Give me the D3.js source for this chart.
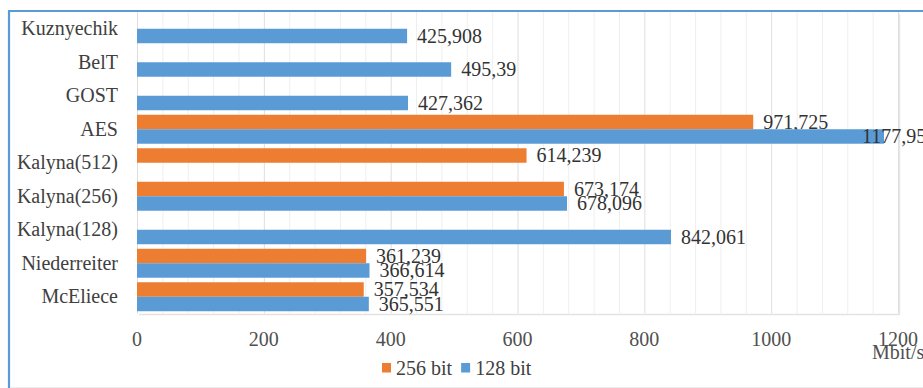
<!DOCTYPE html>
<html>
<head>
<meta charset="utf-8">
<script src="https://cdn.jsdelivr.net/npm/d3@7"></script>
<style>
  html, body { margin: 0; padding: 0; background: #fff; }
  svg { display: block; }
</style>
</head>
<body>
<svg id="chart" width="923" height="388"></svg>
<script>
// ---- data ----
const categories = ["Kuznyechik", "BelT", "GOST", "AES", "Kalyna(512)", "Kalyna(256)", "Kalyna(128)", "Niederreiter", "McEliece"];
const seriesNames = ["256 bit", "128 bit"];
const values256 = [null, null, null, 971.725, 614.239, 673.174, null, 361.239, 357.534];
const values128 = [425.908, 495.39, 427.362, 1177.95, null, 678.096, 842.061, 366.614, 365.551];
const labels256 = [null, null, null, "971,725", "614,239", "673,174", null, "361,239", "357,534"];
const labels128 = ["425,908", "495,39", "427,362", "1177,95", null, "678,096", "842,061", "366,614", "365,551"];
const xTicks = [0, 200, 400, 600, 800, 1000, 1200];
const xMinorStep = 40;
const axisUnit = "Mbit/s";
const colors = ["#ED7D31", "#5B9BD5"];

// ---- layout ----
const W = 923, H = 388;
const FONT = "'Liberation Serif', 'Times New Roman', serif";
const svg = d3.select("#chart");
const plot = { left: 137, right: 898, top: 12, bottom: 313.5 };

// chart frame
svg.append("line").attr("x1", 9).attr("x2", 9).attr("y1", 10).attr("y2", 388)
  .attr("stroke", "#5B9BD5").attr("stroke-width", 2.2);
svg.append("line").attr("x1", 8).attr("x2", W).attr("y1", 11).attr("y2", 11)
  .attr("stroke", "#5B9BD5").attr("stroke-width", 2.2);
svg.append("line").attr("x1", 10).attr("x2", W).attr("y1", 387.5).attr("y2", 387.5)
  .attr("stroke", "#eeeeee").attr("stroke-width", 1);

const x = d3.scaleLinear().domain([0, 1200]).range([plot.left, plot.right]);
const y = d3.scaleBand().domain(categories).range([plot.top, plot.bottom])
  .paddingInner(0.135).paddingOuter(0.0675);
const ys = d3.scaleBand().domain(seriesNames).range([0, y.bandwidth()]);

// minor grid
const minor = d3.range(0, 1200 + 1, xMinorStep).filter(v => !xTicks.includes(v));
svg.append("g").selectAll("line").data(minor).join("line")
  .attr("x1", d => x(d) + 0.5).attr("x2", d => x(d) + 0.5)
  .attr("y1", plot.top).attr("y2", plot.bottom)
  .attr("stroke", "#efefef").attr("stroke-width", 1);
// major grid
svg.append("g").selectAll("line").data(xTicks).join("line")
  .attr("x1", d => x(d) + 0.5).attr("x2", d => x(d) + 0.5)
  .attr("y1", plot.top).attr("y2", plot.bottom)
  .attr("stroke", "#dedede").attr("stroke-width", 1);
// plot shadow (right / bottom)
svg.append("line").attr("x1", plot.right + 1.5).attr("x2", plot.right + 1.5)
  .attr("y1", plot.top + 2).attr("y2", plot.bottom + 1.5)
  .attr("stroke", "#e6e6e6").attr("stroke-width", 1.5);
svg.append("line").attr("x1", plot.left + 2).attr("x2", plot.right + 2)
  .attr("y1", plot.bottom + 1).attr("y2", plot.bottom + 1)
  .attr("stroke", "#e3e3e3").attr("stroke-width", 1.5);

// bars
const series = [values256, values128];
const seriesLabels = [labels256, labels128];
series.forEach((vals, si) => {
  const data = categories.map((c, i) => ({ c, v: vals[i], lab: seriesLabels[si][i] })).filter(d => d.v != null);
  const g = svg.append("g");
  g.selectAll("rect").data(data).join("rect")
    .attr("x", x(0))
    .attr("y", d => y(d.c) + ys(seriesNames[si]))
    .attr("width", d => x(d.v) - x(0))
    .attr("height", ys.bandwidth())
    .attr("fill", colors[si]);
  g.selectAll("text").data(data).join("text")
    .attr("x", d => Math.min(x(d.v) + 10, plot.right - 36))
    .attr("y", d => y(d.c) + ys(seriesNames[si]) + ys.bandwidth() / 2)
    .attr("dy", "0.33em")
    .style("font-family", FONT)
    .attr("font-size", 20)
    .attr("fill", "#333333")
    .text(d => d.lab);
});

// category labels
svg.append("g").selectAll("text").data(categories).join("text")
  .attr("x", 118)
  .attr("y", d => y(d) + y.bandwidth() / 2)
  .attr("dy", "0.33em")
  .attr("text-anchor", "end")
  .style("font-family", FONT)
  .attr("font-size", 20)
  .attr("fill", "#404040")
  .text(d => d);

// x tick labels
svg.append("g").selectAll("text").data(xTicks).join("text")
  .attr("x", d => x(d))
  .attr("y", 345.5)
  .attr("text-anchor", "middle")
  .style("font-family", FONT)
  .attr("font-size", 20)
  .attr("fill", "#505050")
  .text(d => d);
svg.append("text").attr("x", 872).attr("y", 359)
  .style("font-family", FONT)
  .attr("font-size", 20).attr("fill", "#505050").text(axisUnit);

// legend
const legend = svg.append("g").attr("transform", "translate(382,368)");
let lx = 0;
seriesNames.forEach((name, i) => {
  legend.append("rect").attr("x", lx).attr("y", -5).attr("width", 9).attr("height", 9.5).attr("fill", colors[i]);
  const t = legend.append("text").attr("x", lx + 14).attr("y", 0).attr("dy", "0.33em")
    .style("font-family", FONT)
    .attr("font-size", 20).attr("fill", "#404040").text(name);
  lx += 14 + t.node().getComputedTextLength() + 9;
});
</script>
</body>
</html>
